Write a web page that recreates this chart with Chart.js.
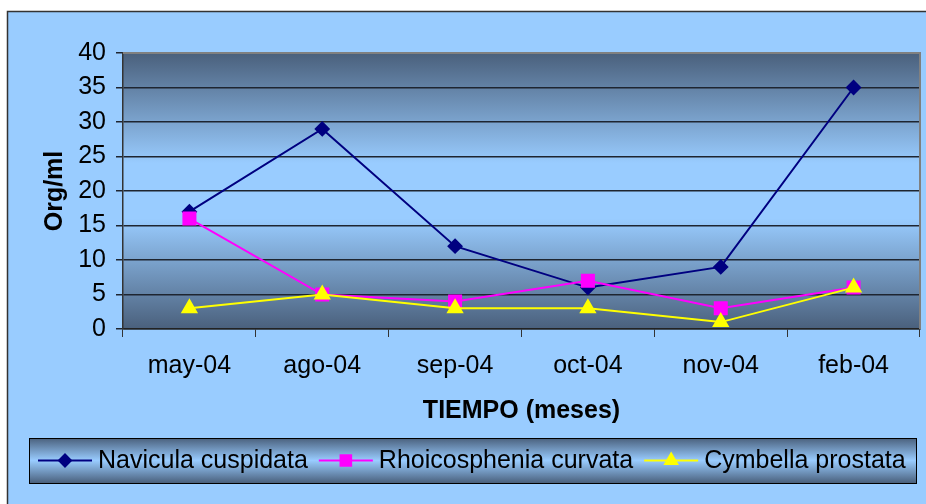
<!DOCTYPE html>
<html>
<head>
<meta charset="utf-8">
<script src="https://cdn.jsdelivr.net/npm/chart.js@4/dist/chart.umd.min.js"></script>
<style>
  html, body { margin: 0; padding: 0; background: #ffffff; overflow: hidden; }
  #wrap { width: 926px; height: 504px; }
  canvas { display: block; }
</style>
</head>
<body>
<div id="wrap"><canvas id="myChart" width="926" height="504"></canvas></div>
<script>
const meses = ['may-04', 'ago-04', 'sep-04', 'oct-04', 'nov-04', 'feb-04'];
const navicula = [17, 29, 12, 6, 9, 35];
const rhoicosphenia = [16, 5, 4, 7, 3, 6];
const cymbella = [3, 5, 3, 3, 1, 6];

const FONT = 'Arial, "Liberation Sans", sans-serif';
const DARK = '#4a607c';
const LIGHT = '#99ccff';

// background, plot gradient and the boxed legend at the bottom
const fondo = {
    id: 'fondo',
    beforeDraw(chart) {
        const c = chart.ctx;
        const a = chart.chartArea;
        c.save();
        c.fillStyle = '#ffffff';
        c.fillRect(0, 0, chart.width, chart.height);
        c.fillStyle = LIGHT;
        c.fillRect(7, 11, chart.width - 7, chart.height - 11);
        c.strokeStyle = '#333333';
        c.lineWidth = 1.5;
        c.beginPath();
        c.moveTo(7.5, chart.height);
        c.lineTo(7.5, 11.5);
        c.lineTo(chart.width, 11.5);
        c.stroke();

        const g = c.createLinearGradient(0, a.top, 0, a.bottom);
        g.addColorStop(0, DARK);
        g.addColorStop(0.4, LIGHT);
        g.addColorStop(0.6, LIGHT);
        g.addColorStop(1, DARK);
        c.fillStyle = g;
        c.fillRect(a.left, a.top, a.right - a.left, a.bottom - a.top);
        c.restore();
    },
    afterDatasetsDraw(chart) {
        const c = chart.ctx;
        const a = chart.chartArea;
        c.save();
        c.strokeStyle = '#808080';
        c.lineWidth = 2;
        c.beginPath();
        c.moveTo(a.left, a.top);
        c.lineTo(a.right, a.top);
        c.lineTo(a.right, a.bottom);
        c.stroke();
        c.restore();
    },
    afterDraw(chart) {
        const c = chart.ctx;
        const bx = 29, by = 438, bw = 887, bh = 45;
        c.save();
        const g = c.createLinearGradient(0, by, 0, by + bh);
        g.addColorStop(0, DARK);
        g.addColorStop(0.5, LIGHT);
        g.addColorStop(1, DARK);
        c.fillStyle = g;
        c.fillRect(bx, by, bw, bh);
        c.strokeStyle = '#000000';
        c.lineWidth = 1;
        c.strokeRect(bx + 0.5, by + 0.5, bw, bh);

        const cy = by + bh / 2;
        let x = 38;
        c.font = '25px ' + FONT;
        c.textBaseline = 'middle';
        c.textAlign = 'left';
        chart.data.datasets.forEach(ds => {
            c.strokeStyle = ds.borderColor;
            c.lineWidth = 2;
            c.beginPath();
            c.moveTo(x, cy);
            c.lineTo(x + 54, cy);
            c.stroke();
            c.fillStyle = ds.pointBackgroundColor;
            c.strokeStyle = ds.pointBorderColor;
            Chart.helpers.drawPoint(c, {
                pointStyle: ds.pointStyle,
                radius: ds.legendRadius,
                borderWidth: 1
            }, x + 27, cy);
            c.fillStyle = '#000000';
            c.fillText(ds.label, x + 60, cy + 1);
            x += 60 + c.measureText(ds.label).width + 11;
        });
        c.restore();
    }
};

const ctx = document.getElementById('myChart').getContext('2d');

const myChart = new Chart(ctx, {
    type: 'line',
    data: {
        labels: meses,
        datasets: [{
            label: 'Navicula cuspidata',
            data: navicula,
            order: 3,
            borderColor: '#000080',
            backgroundColor: '#000080',
            pointBackgroundColor: '#000080',
            pointBorderColor: '#000080',
            pointStyle: 'rectRot',
            pointRadius: 6.5,
            legendRadius: 6,
            borderWidth: 2
        }, {
            label: 'Rhoicosphenia curvata',
            data: rhoicosphenia,
            order: 2,
            borderColor: '#ff00ff',
            backgroundColor: '#ff00ff',
            pointBackgroundColor: '#ff00ff',
            pointBorderColor: '#ff00ff',
            pointStyle: 'rect',
            pointRadius: 8.5,
            legendRadius: 7.5,
            borderWidth: 2
        }, {
            label: 'Cymbella prostata',
            data: cymbella,
            order: 1,
            borderColor: '#ffff00',
            backgroundColor: '#ffff00',
            pointBackgroundColor: '#ffff00',
            pointBorderColor: '#ffff00',
            pointStyle: 'triangle',
            pointRadius: 8,
            legendRadius: 7,
            borderWidth: 2
        }]
    },
    options: {
        responsive: false,
        animation: false,
        layout: {
            autoPadding: false,
            padding: { left: 36, top: 53, right: 6, bottom: 74 }
        },
        plugins: {
            legend: { display: false },
            tooltip: { enabled: false }
        },
        scales: {
            x: {
                offset: true,
                grid: {
                    offset: true,
                    drawOnChartArea: false,
                    drawTicks: true,
                    tickLength: 8,
                    color: '#333333'
                },
                border: { color: '#222222', width: 1.5 },
                ticks: {
                    color: '#000000',
                    padding: 14,
                    font: { family: FONT, size: 25 }
                },
                title: {
                    display: true,
                    text: 'TIEMPO (meses)',
                    color: '#000000',
                    font: { family: FONT, size: 25, weight: 'bold' }
                },
                afterFit(scale) {
                    scale.height = 101;
                    scale.paddingLeft = 0;
                    scale.paddingRight = 0;
                }
            },
            y: {
                min: 0,
                max: 40,
                ticks: {
                    stepSize: 5,
                    color: '#000000',
                    padding: 10,
                    font: { family: FONT, size: 25 }
                },
                grid: {
                    color: '#1e2530',
                    lineWidth: 1.5,
                    tickLength: 7
                },
                border: { color: '#333333', width: 1.5 },
                title: {
                    display: true,
                    text: 'Org/ml',
                    color: '#000000',
                    font: { family: FONT, size: 25, weight: 'bold' }
                },
                afterFit(scale) { scale.width = 87; }
            }
        }
    },
    plugins: [fondo]
});
</script>
</body>
</html>
